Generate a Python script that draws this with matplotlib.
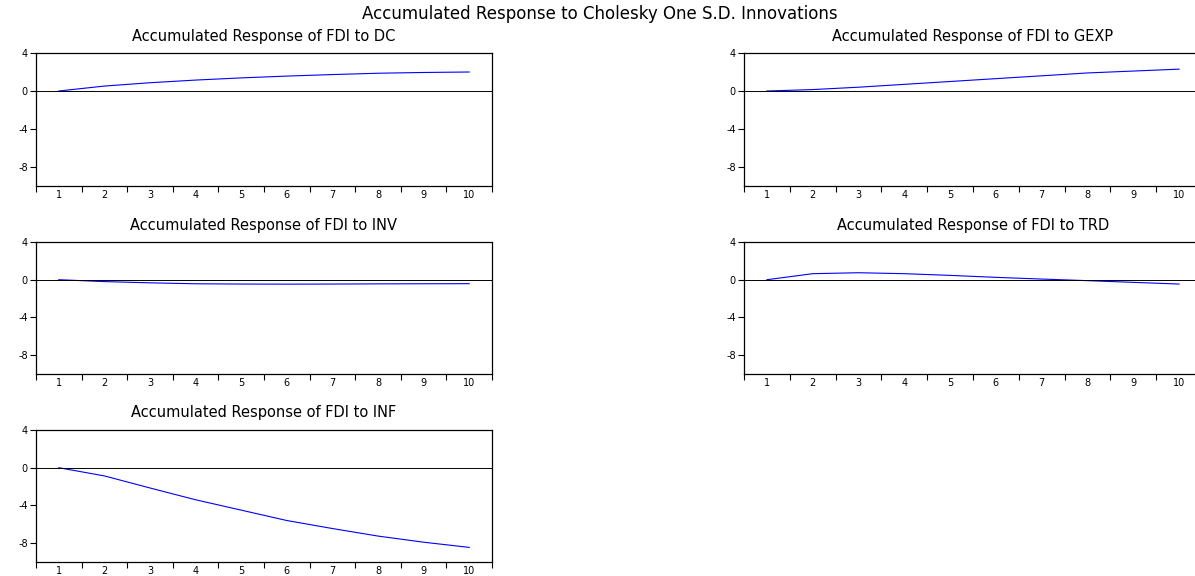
import numpy as np
import matplotlib.pyplot as plt

plt.rcParams["axes.unicode_minus"] = False

# data
periods = np.arange(1, 11)
titles = ["Accumulated Response of FDI to DC",
          "Accumulated Response of FDI to GEXP",
          "Accumulated Response of FDI to INV",
          "Accumulated Response of FDI to TRD",
          "Accumulated Response of FDI to INF"]
dc = [0.0, 0.52, 0.87, 1.15, 1.38, 1.57, 1.73, 1.87, 1.95, 2.0]
gexp = [0.0, 0.15, 0.4, 0.7, 1.0, 1.3, 1.6, 1.9, 2.1, 2.3]
inv = [0.0, -0.2, -0.33, -0.43, -0.46, -0.47, -0.46, -0.44, -0.43, -0.42]
trd = [0.0, 0.64, 0.74, 0.64, 0.46, 0.25, 0.07, -0.1, -0.28, -0.46]
inf = [0.0, -0.87, -2.15, -3.4, -4.5, -5.6, -6.45, -7.25, -7.9, -8.45]
series = [dc, gexp, inv, trd, inf]
yticks = [4, 0, -4, -8]

W, H = 1195, 576
fig = plt.figure(figsize=(W / 100, H / 100), dpi=100)

# axes boxes in pixels: left, top, right, bottom
boxes = [(36, 53, 492, 186), (744, 53, 1202, 186),
         (36, 242, 492, 374), (744, 242, 1202, 374),
         (36, 430, 492, 562)]

for (l, t, r, b), ttl, y in zip(boxes, titles, series):
    ax = fig.add_axes([l / W, 1 - b / H, (r - l) / W, (b - t) / H])
    ax.plot(periods, y, color="blue", lw=0.8)
    ax.axhline(0, color="black", lw=0.7)
    ax.set_xlim(0.5, 10.5)
    ax.set_ylim(-10, 4)
    ax.set_yticks(yticks)
    ax.set_xticks(periods)
    ax.set_xticks(np.arange(0.5, 11, 1), minor=True)
    ax.tick_params(axis="x", which="major", length=0, labelsize=7, pad=3)
    ax.tick_params(axis="x", which="minor", length=4, width=0.8, direction="out")
    ax.tick_params(axis="y", length=4, width=0.8, labelsize=7, pad=2)
    for s in ax.spines.values():
        s.set_linewidth(0.9)
    ax.set_title(ttl, fontsize=10.5, pad=9)

fig.text(0.502, 1 - 14 / H, "Accumulated Response to Cholesky One S.D. Innovations",
         ha="center", va="center", fontsize=12)

plt.savefig("out.png", dpi=100)
